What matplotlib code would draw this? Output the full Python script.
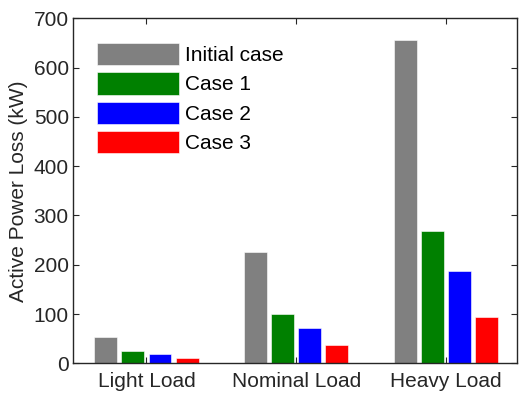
import numpy as np
import matplotlib.pyplot as plt
from matplotlib.patches import Patch

# active power loss per loading level (kW)
load_levels = ['Light Load', 'Nominal Load', 'Heavy Load']
case_names = ['Initial case', 'Case 1', 'Case 2', 'Case 3']
initial_case = [53, 226, 655]
case_1 = [25, 100, 269]
case_2 = [18, 72, 187]
case_3 = [10, 37, 94]
case_colors = [(0.5, 0.5, 0.5), (0, 0.5, 0), (0, 0, 1), (1, 0, 0)]

plt.rcParams['font.family'] = ['Liberation Sans', 'DejaVu Sans']
plt.rcParams['font.size'] = 15

fig = plt.figure(figsize=(5.19, 3.93), dpi=100)
ax = fig.add_axes([0.1407, 0.0756, 0.856, 0.8778])

x = np.arange(1, len(load_levels) + 1)
bar_w = 0.153
step = 0.181
series = [initial_case, case_1, case_2, case_3]
for i, (vals, col) in enumerate(zip(series, case_colors)):
    ax.bar(x + (i - 1.5) * step, vals, width=bar_w, color=col,
           edgecolor='white', linewidth=0.4, label=case_names[i])

ax.set_xlim(0.51, 3.475)
ax.set_ylim(0, 700)
ax.set_yticks(range(0, 701, 100))
ax.set_xticks(x)
ax.set_xticklabels(load_levels)
ax.set_ylabel('Active Power Loss (kW)', color=(0.15, 0.15, 0.15), labelpad=4)

for s in ax.spines.values():
    s.set_color((0.15, 0.15, 0.15))
    s.set_linewidth(1.0)
ax.tick_params(direction='in', length=4, width=0.8, top=True, right=True,
               colors=(0.15, 0.15, 0.15), labelcolor=(0.15, 0.15, 0.15))
ax.tick_params(axis='x', pad=6)
ax.tick_params(axis='y', pad=3)

handles = [Patch(facecolor=c, edgecolor='white', linewidth=0.4) for c in case_colors]
ax.legend(handles, case_names, loc='upper left', bbox_to_anchor=(0.0533, 0.928),
          frameon=False, borderpad=0, borderaxespad=0, handlelength=3.95,
          handleheight=1.25, labelspacing=0.35, handletextpad=0.3)

fig.savefig('out.png', dpi=100)
